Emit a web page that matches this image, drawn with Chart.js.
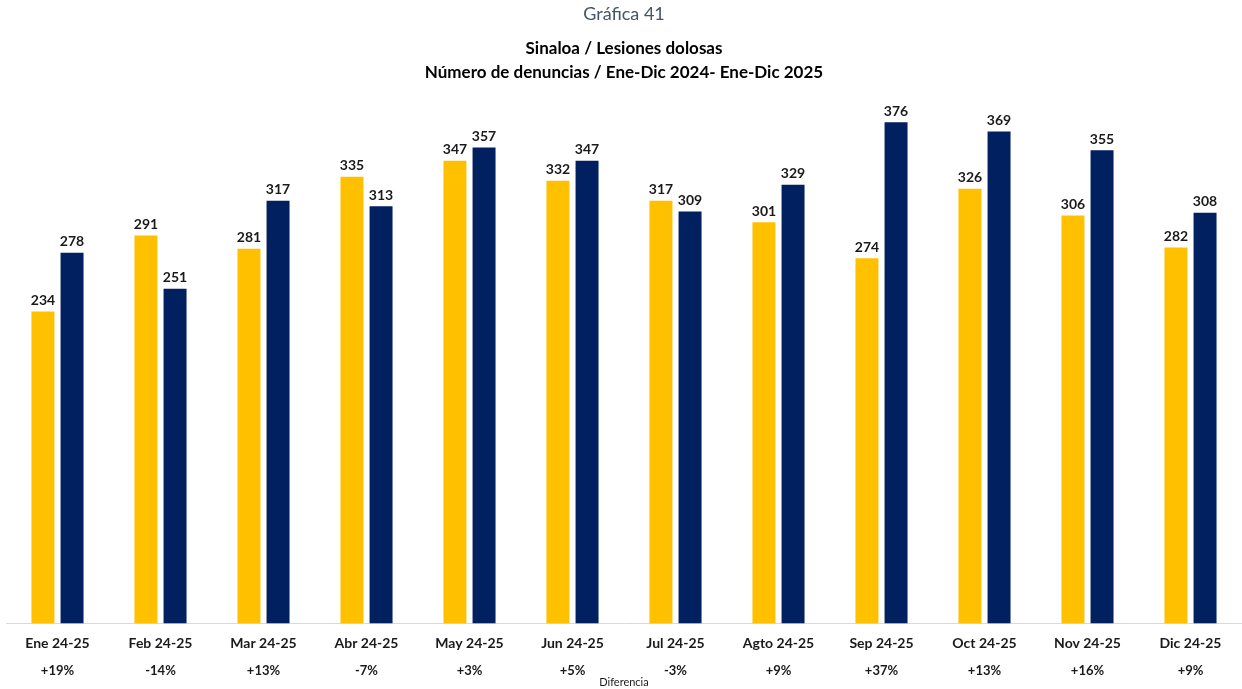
<!DOCTYPE html>
<html lang="es">
<head>
<meta charset="utf-8">
<title>Sinaloa / Lesiones dolosas</title>
<script src="https://cdn.jsdelivr.net/npm/chart.js@4/dist/chart.umd.min.js"></script>
<style>
  body { margin: 0; background: #fff; }
  #wrap { width: 1242px; height: 689px; }
</style>
</head>
<body>
<div id="wrap"><canvas id="grafica"></canvas></div>
<script>
const meses = ["Ene 24-25", "Feb 24-25", "Mar 24-25", "Abr 24-25", "May 24-25", "Jun 24-25",
               "Jul 24-25", "Agto 24-25", "Sep 24-25", "Oct 24-25", "Nov 24-25", "Dic 24-25"];
const valores2024 = [234, 291, 281, 335, 347, 332, 317, 301, 274, 326, 306, 282];
const valores2025 = [278, 251, 317, 313, 357, 347, 309, 329, 376, 369, 355, 308];
const diferencias = ["+19%", "-14%", "+13%", "-7%", "+3%", "+5%", "-3%", "+9%", "+37%", "+13%", "+16%", "+9%"];

const FUENTE = "Lato, 'Open Sans', sans-serif";

// etiquetas de valor encima de cada barra
const etiquetasValor = {
    id: "etiquetasValor",
    afterDatasetsDraw(chart) {
        const ctx = chart.ctx;
        ctx.save();
        ctx.font = "bold 14px " + FUENTE;
        ctx.fillStyle = "#1a1a1a";
        ctx.textAlign = "center";
        ctx.textBaseline = "bottom";
        chart.data.datasets.forEach((ds, i) => {
            chart.getDatasetMeta(i).data.forEach((bar, j) => {
                ctx.fillText(ds.data[j], bar.x, bar.y - 4);
            });
        });
        ctx.restore();
    }
};

new Chart("grafica", {
    type: "bar",
    data: {
        labels: meses,
        datasets: [
            {
                label: "2024",
                data: valores2024,
                backgroundColor: "#FFC000",
                barPercentage: 0.79,
                categoryPercentage: 0.565
            },
            {
                label: "2025",
                data: valores2025,
                backgroundColor: "#002060",
                barPercentage: 0.79,
                categoryPercentage: 0.565
            }
        ]
    },
    options: {
        responsive: true,
        maintainAspectRatio: false,
        animation: false,
        layout: {padding: {left: 6, right: 0, top: 0, bottom: 0}},
        plugins: {
            legend: {display: false},
            tooltip: {enabled: false},
            title: {
                display: true,
                text: "Gráfica 41",
                color: "#44546A",
                font: {family: FUENTE, size: 18, weight: "normal"},
                padding: {top: 3, bottom: 12}
            },
            subtitle: {
                display: true,
                text: ["Sinaloa / Lesiones dolosas", "Número de denuncias / Ene-Dic 2024- Ene-Dic 2025"],
                color: "#000",
                font: {family: FUENTE, size: 17, weight: "bold", lineHeight: 1.4},
                padding: {bottom: 10}
            }
        },
        scales: {
            x: {
                grid: {display: false},
                border: {display: true, color: "#d9d9d9", width: 1},
                ticks: {color: "#1a1a1a", font: {family: FUENTE, size: 14, weight: "bold"}, padding: 4}
            },
            x2: {
                type: "category",
                labels: diferencias,
                position: "bottom",
                offset: true,
                grid: {display: false, drawTicks: false},
                border: {display: false},
                ticks: {color: "#1a1a1a", font: {family: FUENTE, size: 13, weight: "bold"}, padding: 7},
                title: {
                    display: true,
                    text: "Diferencia",
                    color: "#1a1a1a",
                    font: {family: FUENTE, size: 11},
                    padding: {top: -10, bottom: 0}
                }
            },
            y: {
                display: false,
                min: 0,
                max: 397
            }
        }
    },
    plugins: [etiquetasValor]
});
</script>
</body>
</html>
